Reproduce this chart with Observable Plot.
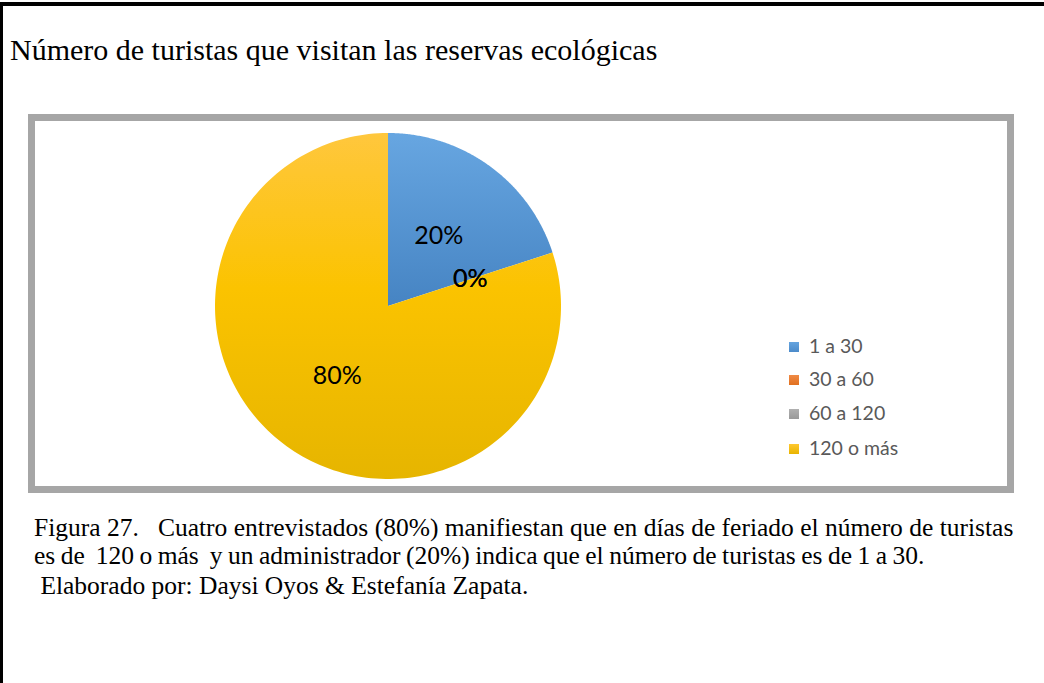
<!DOCTYPE html>
<html>
<head>
<meta charset="utf-8">
<script src="https://cdn.jsdelivr.net/npm/d3@7"></script>
<script src="https://cdn.jsdelivr.net/npm/@observablehq/plot@0.6"></script>
<style>
  html, body { margin: 0; padding: 0; background: #fff; }
  body { width: 1044px; height: 683px; position: relative; overflow: hidden; }
  #frame { position: absolute; left: 0; top: 2px; width: 1044px; height: 681px;
           border-top: 4px solid #000; border-left: 3px solid #000; box-sizing: border-box; }
  .serif { font-family: "Liberation Serif", "Times New Roman", serif; color: #000; white-space: pre; position: absolute; }
  #title { left: 10px; top: 35px; font-size: 30px; line-height: 30px; }
  #box { position: absolute; left: 28px; top: 114px; width: 986px; height: 379px;
         border: 7px solid #a6a6a6; box-sizing: border-box; background: #fff; }
  #chart { position: absolute; left: 0; top: 0; }
  #legend { position: absolute; left: 754px; top: 216px; font-family: Lato, "Open Sans", sans-serif;
            font-size: 19.5px; color: #595959; }
  .item { position: absolute; left: 0; height: 20px; white-space: nowrap; }
  .sw { position: absolute; left: 0; top: 5px; width: 10px; height: 10px; }
  .lab { position: absolute; left: 20px; top: -3px; line-height: 24px; }
  .cap { font-size: 25.5px; line-height: 25.5px; left: 34px; }
</style>
</head>
<body>
<div id="frame"></div>
<div id="title" class="serif">Número de turistas que visitan las reservas ecológicas</div>
<div id="box"><div id="chart"></div><div id="legend"></div></div>
<div class="serif cap" style="top:515px">Figura 27.   Cuatro entrevistados (80%) manifiestan que en días de feriado el número de turistas</div>
<div class="serif cap" style="top:543px; word-spacing:-0.9px">es de  120 o más  y un administrador (20%) indica que el número de turistas es de 1 a 30.</div>
<div class="serif cap" style="top:573px"> Elaborado por: Daysi Oyos &amp; Estefanía Zapata.</div>
<script>
// ---- data ----
const categories = ["1 a 30", "30 a 60", "60 a 120", "120 o más"];
const percents = [20, 0, 0, 80];
const labels = ["20%", "0%", "0%", "80%"];
const gradientIds = ["gBlue", "gOrange", "gGrey", "gYellow"];
const swatchColors = [
  "linear-gradient(#65a4df, #4c8bca)",
  "linear-gradient(#f08a45, #e1701f)",
  "linear-gradient(#b0b0b0, #999999)",
  "linear-gradient(#ffc830, #e8b400)"
];

// ---- geometry from d3.pie ----
const arcs = d3.pie().sort(null).value(d => d)(percents);
const slicePts = [];
arcs.forEach((a, i) => {
  slicePts.push({cat: categories[i], x: 0, y: 0});
  const n = 180;
  for (let k = 0; k <= n; k++) {
    const t = a.startAngle + (a.endAngle - a.startAngle) * k / n;
    slicePts.push({cat: categories[i], x: Math.sin(t), y: Math.cos(t)});
  }
});
const labelPts = arcs.map((a, i) => {
  const m = (a.startAngle + a.endAngle) / 2;
  return {cat: categories[i], text: labels[i], x: 0.5 * Math.sin(m), y: 0.5 * Math.cos(m)};
});

const cx = 352.5, cy = 184.5, R = 173;
const chart = Plot.plot({
  width: 972,
  height: 365,
  margin: 0,
  style: {background: "transparent", overflow: "visible"},
  x: {domain: [-1, 1], range: [cx - R, cx + R], axis: null},
  y: {domain: [-1, 1], range: [cy + R, cy - R], axis: null},
  color: {type: "ordinal", domain: categories, range: gradientIds.map(id => `url(#${id})`)},
  marks: [
    Plot.line(slicePts, {x: "x", y: "y", z: "cat", fill: "cat", stroke: "none", curve: "linear-closed"}),
    Plot.text(labelPts, {x: "x", y: "y", text: "text", fill: "#000", fontSize: 25,
                         fontFamily: "Lato, 'Open Sans', sans-serif"})
  ]
});
const defs = d3.select(chart).insert("defs", ":first-child");
const grads = [
  ["gBlue", [["0", "#67a6e1"], ["1", "#4684c3"]]],
  ["gOrange", [["0", "#f08a45"], ["1", "#e1701f"]]],
  ["gGrey", [["0", "#b0b0b0"], ["1", "#999999"]]],
  ["gYellow", [["0", "#ffc73d"], ["0.45", "#fbc300"], ["1", "#e6b500"]]]
];
grads.forEach(([id, stops]) => {
  const g = defs.append("linearGradient").attr("id", id)
    .attr("x1", 0).attr("y1", 0).attr("x2", 0).attr("y2", 1);
  stops.forEach(([o, c]) => g.append("stop").attr("offset", o).attr("stop-color", c));
});
document.getElementById("chart").appendChild(chart);

// ---- legend ----
const legend = d3.select("#legend");
categories.forEach((c, i) => {
  const it = legend.append("div").attr("class", "item").style("top", `${[0, 33, 67, 102][i]}px`);
  it.append("div").attr("class", "sw").style("background", swatchColors[i]);
  it.append("div").attr("class", "lab").text(c);
});
</script>
</body>
</html>
